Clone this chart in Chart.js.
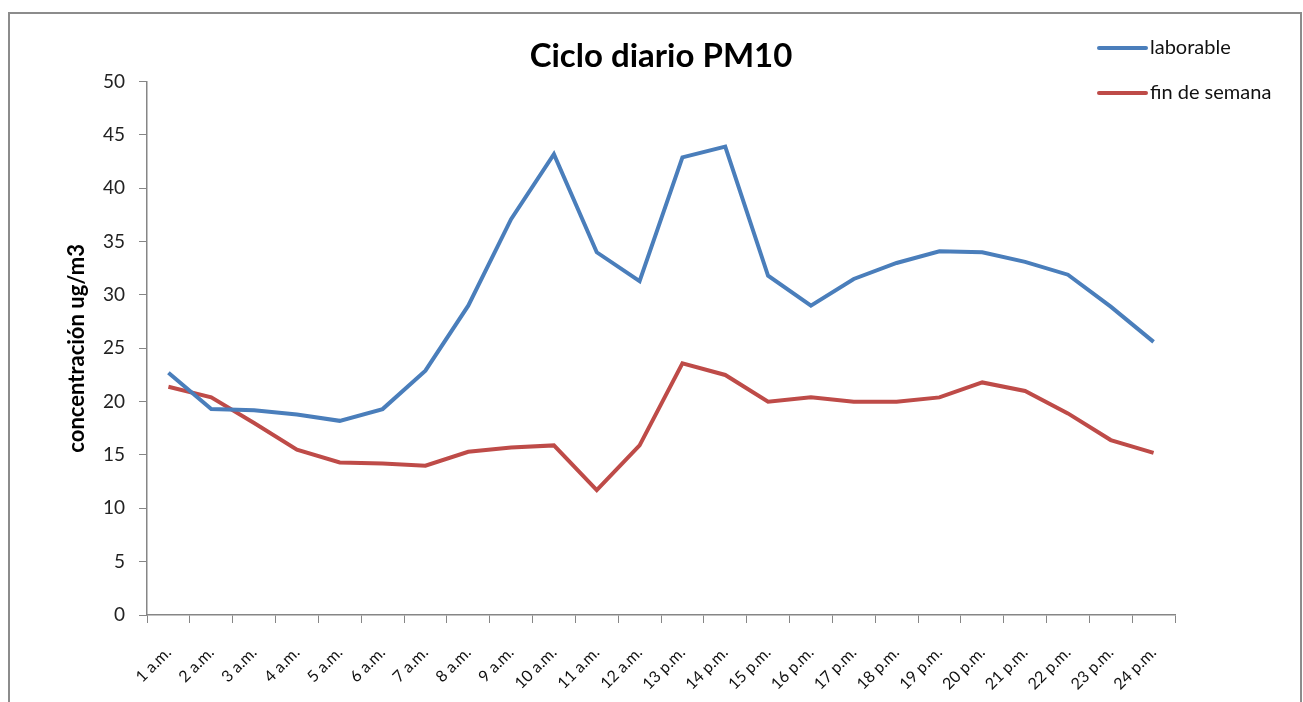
<!DOCTYPE html>
<html>
<head>
<meta charset="utf-8">
<script src="https://cdn.jsdelivr.net/npm/chart.js@4"></script>
<style>
  body { margin: 0; background: #fff; }
  #marco { position: absolute; left: 8px; top: 12px; width: 1290px; height: 700px; border: 2px solid #8c8c8c; }
  #lienzo { position: absolute; left: 0; top: 0; }
</style>
</head>
<body>
<div id="marco"></div>
<canvas id="lienzo" width="1303" height="702"></canvas>
<script>
// horas del dia
const horas = ['1 a.m.', '2 a.m.', '3 a.m.', '4 a.m.', '5 a.m.', '6 a.m.', '7 a.m.', '8 a.m.',
  '9 a.m.', '10 a.m.', '11 a.m.', '12 a.m.', '13 p.m.', '14 p.m.', '15 p.m.', '16 p.m.',
  '17 p.m.', '18 p.m.', '19 p.m.', '20 p.m.', '21 p.m.', '22 p.m.', '23 p.m.', '24 p.m.'];

// concentracion PM10 (ug/m3)
const laborable = [22.7, 19.3, 19.2, 18.8, 18.2, 19.3, 22.9, 29.0, 37.1, 43.2, 34.0, 31.3,
  42.9, 43.9, 31.8, 29.0, 31.5, 33.0, 34.1, 34.0, 33.1, 31.9, 28.9, 25.6];
const finDeSemana = [21.4, 20.4, 18.0, 15.5, 14.3, 14.2, 14.0, 15.3, 15.7, 15.9, 11.7, 15.9,
  23.6, 22.5, 20.0, 20.4, 20.0, 20.0, 20.4, 21.8, 21.0, 18.9, 16.4, 15.2];

const yTicks = { min: 0, max: 50, step: 5 };

const fuente = 'Lato, "Open Sans", sans-serif';
const gris = '#868686';

// leyenda a la derecha, como en excel
const leyenda = {
  id: 'leyenda',
  afterDraw(chart) {
    const ctx = chart.ctx;
    ctx.save();
    chart.data.datasets.forEach((ds, i) => {
      const y = 48 + i * 45;
      ctx.strokeStyle = ds.borderColor;
      ctx.lineWidth = 4;
      ctx.lineCap = 'round';
      ctx.beginPath();
      ctx.moveTo(1099, y);
      ctx.lineTo(1146, y);
      ctx.stroke();
      ctx.fillStyle = '#111';
      ctx.font = '20px ' + fuente;
      ctx.textBaseline = 'middle';
      ctx.fillText(ds.label, 1150, y);
    });
    ctx.restore();
  }
};

const ctx = document.querySelector('#lienzo');

new Chart(ctx, {
  type: 'line',
  data: {
    labels: horas,
    datasets: [
      {
        label: 'laborable',
        data: laborable,
        borderColor: '#4a7ebb',
        borderWidth: 4,
        pointRadius: 0,
        tension: 0
      },
      {
        label: 'fin de semana',
        data: finDeSemana,
        borderColor: '#be4b48',
        borderWidth: 4,
        pointRadius: 0,
        tension: 0
      }
    ]
  },
  options: {
    responsive: false,
    animation: false,
    layout: { padding: { left: 60, right: 128, top: 0, bottom: 0 } },
    plugins: {
      legend: { display: false },
      tooltip: { enabled: false },
      title: {
        display: true,
        text: 'Ciclo diario PM10',
        fullSize: false,
        color: '#000',
        font: { family: fuente, size: 33, weight: 'bold' },
        padding: { top: 37, bottom: 5 }
      }
    },
    scales: {
      x: {
        offset: true,
        afterFit(scale) { scale.height = 87; },
        grid: { display: true, drawOnChartArea: false, drawTicks: true, tickLength: 8, color: gris, offset: true },
        border: { color: gris, width: 1.5 },
        ticks: {
          autoSkip: false,
          minRotation: 45,
          maxRotation: 45,
          padding: 20,
          color: '#111',
          font: { family: fuente, size: 16 }
        }
      },
      y: {
        min: yTicks.min,
        max: yTicks.max,
        afterFit(scale) { scale.width = 87; },
        grid: { drawOnChartArea: false, drawTicks: true, tickLength: 8, color: gris },
        border: { color: gris, width: 1.5 },
        ticks: {
          stepSize: yTicks.step,
          padding: 14,
          color: '#222',
          font: { family: fuente, size: 19 }
        },
        title: {
          display: true,
          text: 'concentración ug/m3',
          color: '#000',
          font: { family: fuente, size: 22, weight: 'bold' },
          padding: { top: 4, bottom: 0 }
        }
      }
    }
  },
  plugins: [leyenda]
});
</script>
</body>
</html>
